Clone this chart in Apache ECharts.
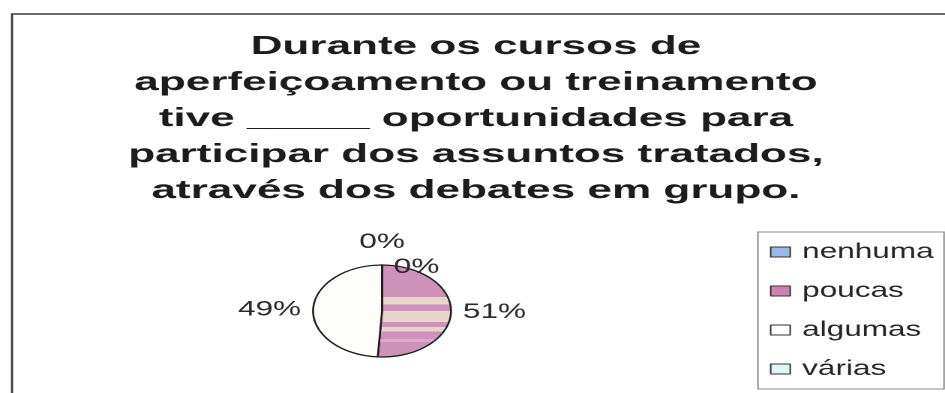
<!DOCTYPE html>
<html>
<head>
<meta charset="utf-8">
<script src="https://cdn.jsdelivr.net/npm/echarts@6/dist/echarts.min.js"></script>
<style>
  html, body { margin: 0; padding: 0; background: #ffffff; overflow: hidden; }
  /* the chart is laid out on a narrow canvas and widened, giving the flat, wide pie */
  #chart { width: 630px; height: 393px; transform: scaleX(1.5); transform-origin: 0 0; }
</style>
</head>
<body>
<div id="chart"></div>
<script>
// Question text, one entry per line
const titleLines = [
  'Durante os cursos de',
  'aperfeiçoamento ou treinamento',
  'tive _____ oportunidades para',
  'participar dos assuntos tratados,',
  'através dos debates em grupo.'
];

// Answer options and their share of responses (%)
const categories = ['nenhuma', 'poucas', 'algumas', 'várias'];
const percents = [0, 51, 49, 0];

// ---- styling ----
const FONT = '"Liberation Sans", Arial, sans-serif';
const PIE_R = 46;
const PIE_CENTER = [254.7, 311];

const pink = '#cf92ba';
const pinkLight = '#e8d6cc';
const pinkMid = '#daaac8';
const stripedPink = {
  type: 'linear', x: 0, y: 0, x2: 0, y2: 1,
  colorStops: [
    { offset: 0.00, color: pink },
    { offset: 0.35, color: pink },
    { offset: 0.35, color: pinkLight },
    { offset: 0.43, color: pinkLight },
    { offset: 0.43, color: pink },
    { offset: 0.50, color: pink },
    { offset: 0.50, color: pinkLight },
    { offset: 0.62, color: pinkLight },
    { offset: 0.62, color: pink },
    { offset: 0.67, color: pink },
    { offset: 0.67, color: pinkLight },
    { offset: 0.72, color: pinkLight },
    { offset: 0.72, color: pink },
    { offset: 0.80, color: pink },
    { offset: 0.80, color: pinkMid },
    { offset: 0.83, color: pinkMid },
    { offset: 0.83, color: pink },
    { offset: 1.00, color: pink }
  ]
};
const sliceColors = ['#9ab8ea', stripedPink, '#fdfdfa', '#e2f5f8'];
const legendColors = ['#9ab8ea', '#c985b0', '#ffffff', '#e2f5f8'];

const chart = echarts.init(document.getElementById('chart'), null, {
  renderer: 'canvas',
  devicePixelRatio: 2
});

const pieData = categories.map((name, i) => {
  const item = {
    name: name,
    value: percents[i],
    itemStyle: { color: sliceColors[i] }
  };
  // zero-width slices sit at the top of the pie; their labels are placed by labelLayout
  if (percents[i] === 0) {
    item.label = { position: 'center' };
  }
  return item;
});

chart.setOption({
  animation: false,
  backgroundColor: '#ffffff',
  graphic: [
    {
      type: 'rect',
      silent: true,
      shape: { x: 8, y: 14, width: 640, height: 420 },
      style: { fill: null, stroke: '#3c3c3c', lineWidth: 1.4 }
    },
    {
      type: 'text',
      silent: true,
      x: 317.3,
      y: 29,
      scaleX: 1.13,
      style: {
        text: titleLines.join('\n'),
        font: 'bold 26px ' + FONT,
        fill: '#1c1c1c',
        textAlign: 'center',
        textVerticalAlign: 'top',
        lineHeight: 36
      }
    }
  ],
  legend: {
    orient: 'vertical',
    left: 505.3,
    top: 232,
    padding: [9.5, 7, 9.5, 8],
    itemGap: 18,
    itemWidth: 13,
    itemHeight: 10,
    icon: 'rect',
    borderColor: '#8c8c8c',
    borderWidth: 1,
    backgroundColor: '#ffffff',
    selectedMode: false,
    textStyle: {
      fontFamily: FONT,
      fontSize: 21,
      color: '#262626',
      padding: [0, 0, 0, 3]
    },
    data: categories.map((name, i) => ({
      name: name,
      itemStyle: { color: legendColors[i], borderColor: '#333333', borderWidth: 1 }
    }))
  },
  series: [
    {
      type: 'pie',
      center: PIE_CENTER,
      radius: PIE_R,
      startAngle: 90,
      clockwise: true,
      avoidLabelOverlap: false,
      silent: true,
      itemStyle: { borderColor: '#1e1e1e', borderWidth: 1.3 },
      label: {
        show: true,
        position: 'outside',
        formatter: '{c}%',
        fontFamily: FONT,
        fontSize: 21,
        color: '#2a2a2a',
        distanceToLabelLine: 8
      },
      labelLine: { show: false, length: 0, length2: 0 },
      labelLayout: function (p) {
        if (p.dataIndex === 0) {
          return { dy: -(PIE_R + 23) };
        }
        if (p.dataIndex === 3) {
          return { dx: 23, dy: -(PIE_R - 2) };
        }
      },
      emphasis: { disabled: true },
      data: pieData
    }
  ]
});
</script>
</body>
</html>
